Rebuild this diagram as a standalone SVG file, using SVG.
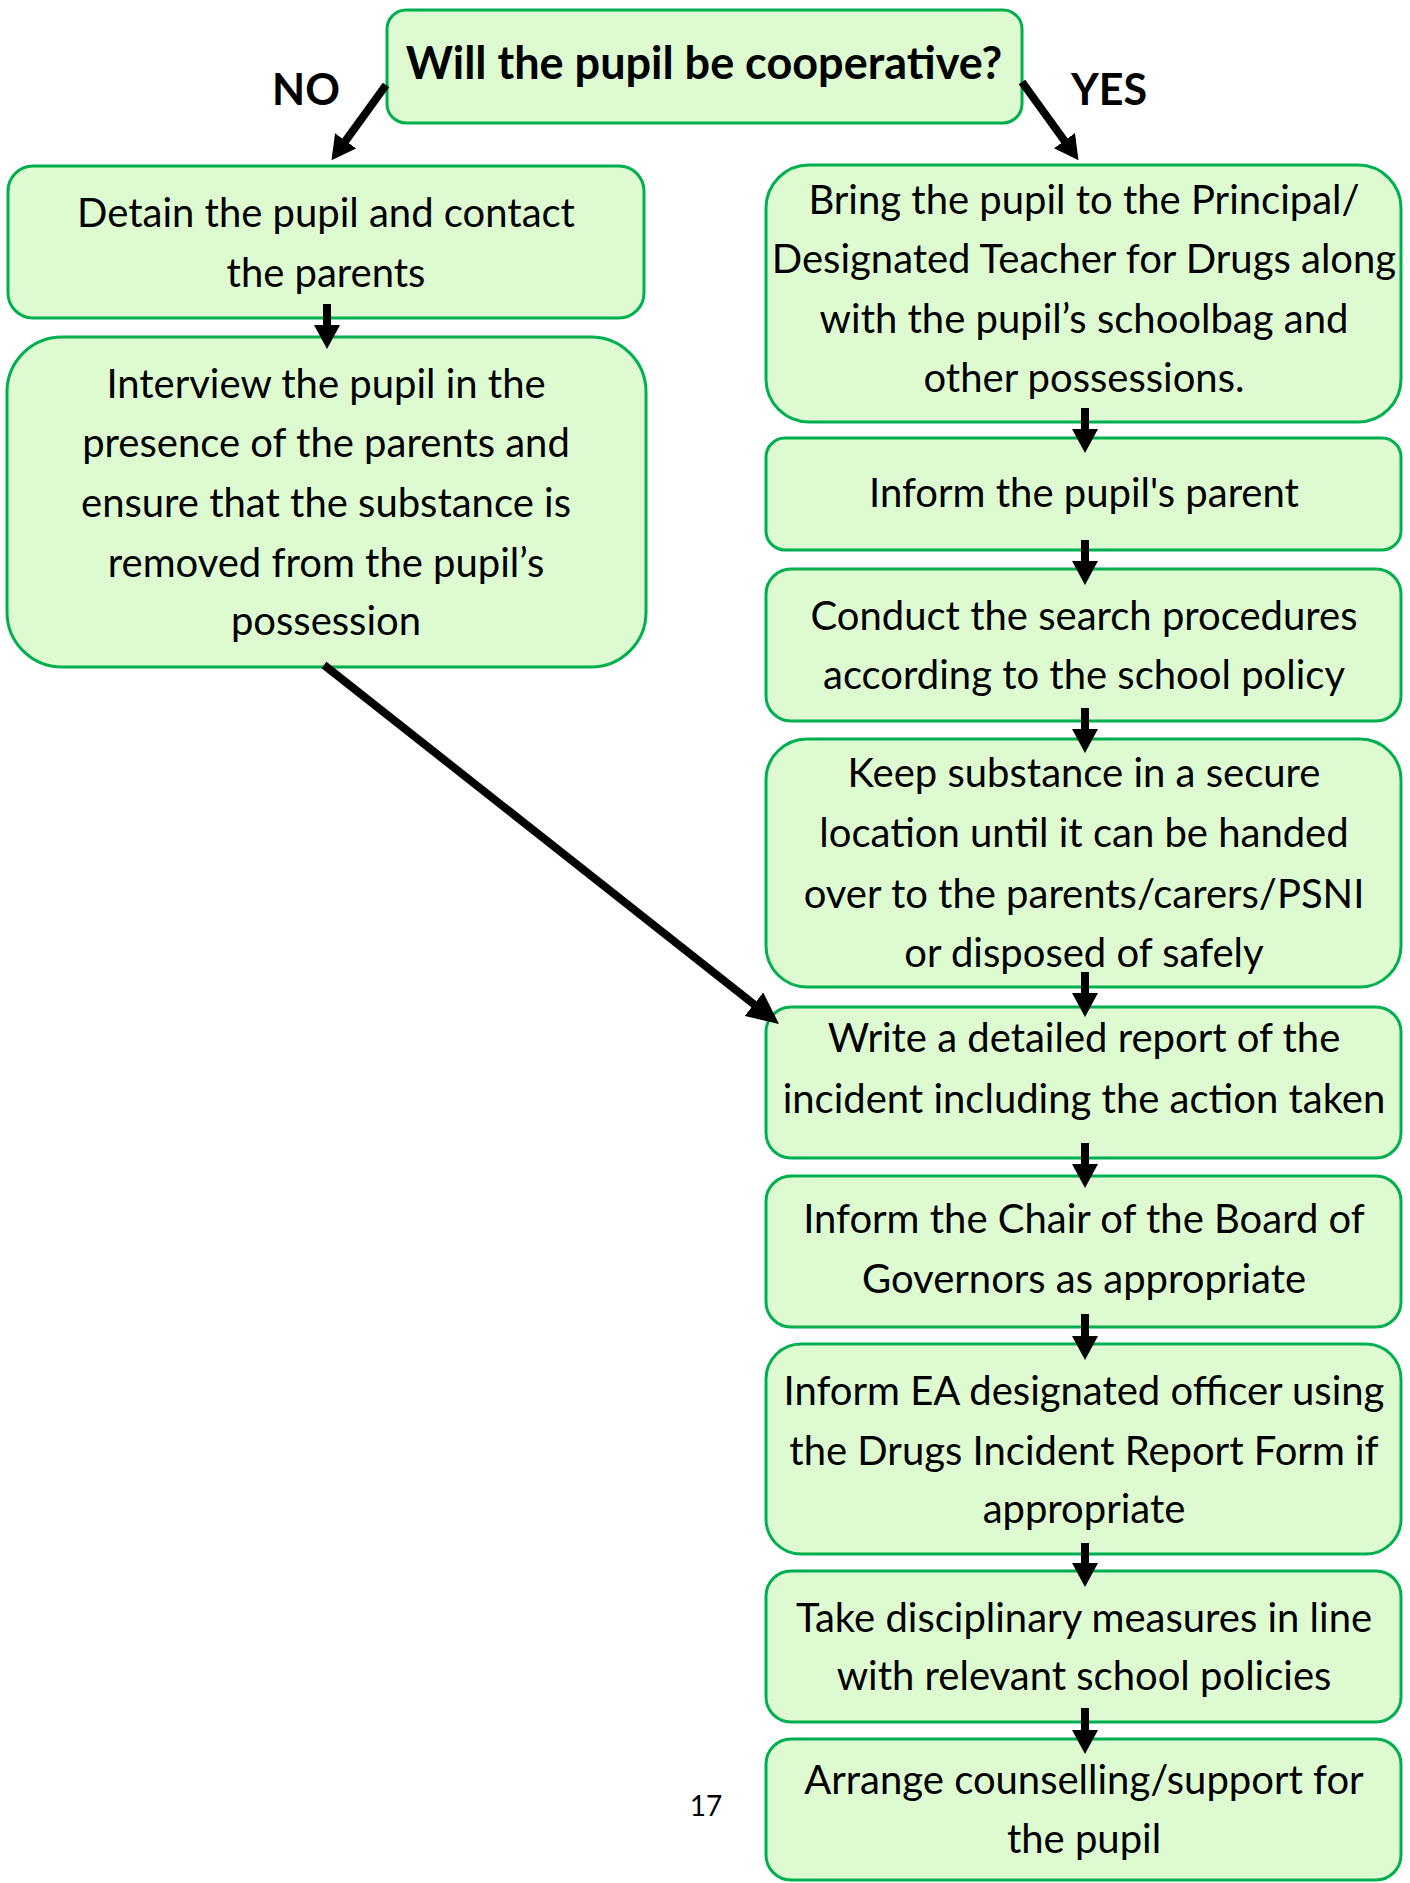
<svg xmlns="http://www.w3.org/2000/svg" width="1410" height="1883" viewBox="0 0 1410 1883">
<style>
.box{fill:#DDFAD1;stroke:#00B050;stroke-width:3}
.t{font-family:Lato,"Liberation Sans",sans-serif;font-size:40px;fill:#000;text-anchor:middle}
.b{font-family:Lato,"Liberation Sans",sans-serif;font-size:45px;font-weight:bold;fill:#000;text-anchor:middle}
.lb{font-family:Lato,"Liberation Sans",sans-serif;font-size:43px;font-weight:bold;fill:#000;text-anchor:middle}
.c{fill:none;stroke:#000;stroke-width:8}
.pg{font-family:Lato,"Liberation Sans",sans-serif;font-size:28px;fill:#000;text-anchor:middle}
</style>
<defs>
<marker id="ah" markerUnits="userSpaceOnUse" markerWidth="24" markerHeight="26" viewBox="0 0 24 26" refX="1" refY="13" orient="auto"><path d="M0,0 L24,13 L0,26 z" fill="#000"/></marker>
<marker id="ah2" markerUnits="userSpaceOnUse" markerWidth="32" markerHeight="30" viewBox="0 0 32 30" refX="1" refY="15" orient="auto"><path d="M0,0 L32,15 L0,30 z" fill="#000"/></marker>
</defs>
<rect width="1410" height="1883" fill="#fff"/>
<g id="q">
<rect class="box" x="387" y="10" width="635" height="113" rx="19"/>
<text class="b" x="704" y="79">Will the pupil be cooperative?</text>
</g>
<g id="lbl-no"><text class="lb" x="306" y="105">NO</text></g>
<g id="lbl-yes"><text class="lb" x="1109" y="105">YES</text></g>
<g id="detain">
<rect class="box" x="8" y="166" width="636" height="152" rx="25"/>
<text class="t" x="326" y="227">Detain the pupil and contact</text>
<text class="t" x="326" y="287">the parents</text>
</g>
<g id="interview">
<rect class="box" x="7" y="337" width="639" height="330" rx="55"/>
<text class="t" x="326" y="398">Interview the pupil in the</text>
<text class="t" x="326" y="457">presence of the parents and</text>
<text class="t" x="326" y="517">ensure that the substance is</text>
<text class="t" x="326" y="577">removed from the pupil’s</text>
<text class="t" x="326" y="635">possession</text>
</g>
<g id="bring">
<rect class="box" x="766" y="165" width="635" height="257" rx="43"/>
<text class="t" x="1084" y="214">Bring the pupil to the Principal/</text>
<text class="t" x="1084" y="273">Designated Teacher for Drugs along</text>
<text class="t" x="1084" y="333">with the pupil’s schoolbag and</text>
<text class="t" x="1084" y="392">other possessions.</text>
</g>
<g id="inform-parent">
<rect class="box" x="766" y="438" width="635" height="112" rx="19"/>
<text class="t" x="1084" y="507">Inform the pupil's parent</text>
</g>
<g id="conduct">
<rect class="box" x="766" y="569" width="635" height="152" rx="25"/>
<text class="t" x="1084" y="630">Conduct the search procedures</text>
<text class="t" x="1084" y="689">according to the school policy</text>
</g>
<g id="keep">
<rect class="box" x="766" y="739" width="635" height="248" rx="41"/>
<text class="t" x="1084" y="787">Keep substance in a secure</text>
<text class="t" x="1084" y="847">location until it can be handed</text>
<text class="t" x="1084" y="908">over to the parents/carers/PSNI</text>
<text class="t" x="1084" y="967">or disposed of safely</text>
</g>
<g id="write">
<rect class="box" x="766" y="1007" width="635" height="151" rx="25"/>
<text class="t" x="1084" y="1052">Write a detailed report of the</text>
<text class="t" x="1084" y="1113">incident including the action taken</text>
</g>
<g id="chair">
<rect class="box" x="766" y="1176" width="635" height="151" rx="25"/>
<text class="t" x="1084" y="1233">Inform the Chair of the Board of</text>
<text class="t" x="1084" y="1293">Governors as appropriate</text>
</g>
<g id="ea">
<rect class="box" x="766" y="1344" width="635" height="210" rx="35"/>
<text class="t" x="1084" y="1405">Inform EA designated officer using</text>
<text class="t" x="1084" y="1465">the Drugs Incident Report Form if</text>
<text class="t" x="1084" y="1523">appropriate</text>
</g>
<g id="disciplinary">
<rect class="box" x="766" y="1571" width="635" height="151" rx="25"/>
<text class="t" x="1084" y="1632">Take disciplinary measures in line</text>
<text class="t" x="1084" y="1690">with relevant school policies</text>
</g>
<g id="counselling">
<rect class="box" x="766" y="1739" width="635" height="141" rx="25"/>
<text class="t" x="1084" y="1794">Arrange counselling/support for</text>
<text class="t" x="1084" y="1853">the pupil</text>
</g>
<g id="page"><text class="pg" x="706" y="1816">17</text></g>
<g id="connectors">
<line class="c" stroke-width="7" x1="386" y1="85" x2="345" y2="141.6" marker-end="url(#ah)"/>
<line class="c" stroke-width="7" x1="1022" y1="82" x2="1065" y2="141.5" marker-end="url(#ah)"/>
<line class="c" x1="327" y1="304" x2="327" y2="326" marker-end="url(#ah)"/>
<line class="c" x1="1085" y1="408" x2="1085" y2="430" marker-end="url(#ah)"/>
<line class="c" x1="1085" y1="540" x2="1085" y2="562" marker-end="url(#ah)"/>
<line class="c" x1="1085" y1="708" x2="1085" y2="730" marker-end="url(#ah)"/>
<line class="c" x1="1085" y1="972" x2="1085" y2="994" marker-end="url(#ah)"/>
<line class="c" x1="1085" y1="1143" x2="1085" y2="1165" marker-end="url(#ah)"/>
<line class="c" x1="1085" y1="1314" x2="1085" y2="1337" marker-end="url(#ah)"/>
<line class="c" x1="1085" y1="1543" x2="1085" y2="1564" marker-end="url(#ah)"/>
<line class="c" x1="1085" y1="1708" x2="1085" y2="1731" marker-end="url(#ah)"/>
<line class="c" x1="324" y1="665" x2="754.7" y2="1004.8" marker-end="url(#ah2)"/>
</g>
</svg>
